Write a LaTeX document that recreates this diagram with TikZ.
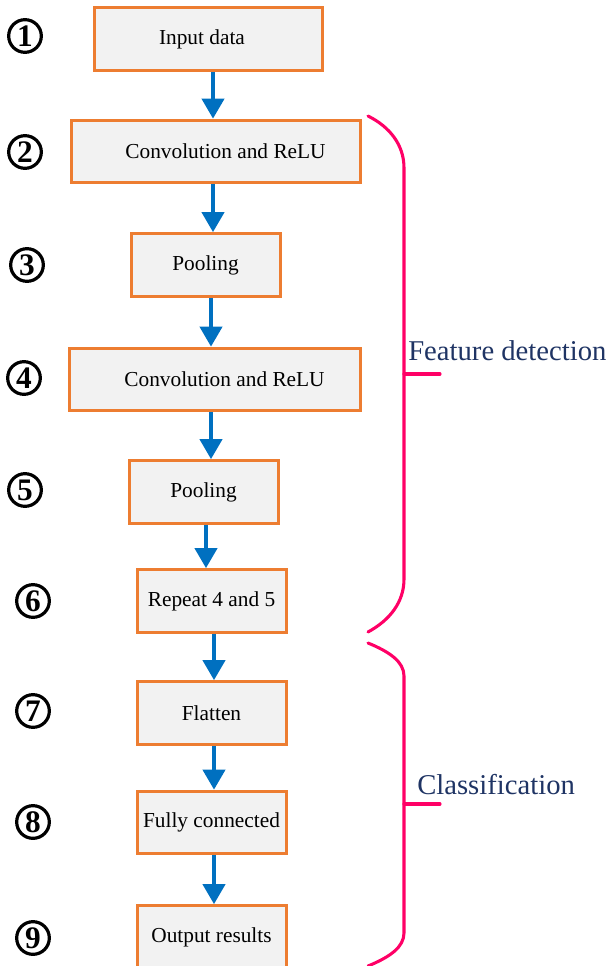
\documentclass[tikz,border=0pt]{standalone}
\usepackage{fontspec}
\setmainfont{Liberation Serif}
\usepackage{xcolor}
\definecolor{boxline}{RGB}{237,125,49}
\definecolor{boxfill}{RGB}{242,242,242}
\definecolor{flow}{RGB}{0,112,192}
\definecolor{brace}{RGB}{255,0,102}
\definecolor{navy}{RGB}{31,52,100}
\usetikzlibrary{arrows.meta}

\begin{document}
\begin{tikzpicture}[x=0.75pt, y=-0.75pt,
  stage/.style={draw=boxline, fill=boxfill, line width=2.25pt, minimum height=47pt, inner sep=0pt, font=\fontsize{16}{18}\selectfont},
  num/.style={circle, draw, line width=2.4pt, minimum size=24.5pt, inner sep=0pt, font=\fontsize{23.5}{23.5}\selectfont\bfseries},
  flowarrow/.style={draw=flow, line width=3pt, -{Triangle[width=16.5pt,length=15pt]}},
  bracket/.style={draw=brace, line width=2.3pt, line cap=round},
  part/.style={text=navy, anchor=base west, inner sep=0pt, font=\fontsize{21.5}{24}\selectfont}]
\useasboundingbox (0,0) rectangle (609,966);
\foreach \n/\x/\y/\w/\s/\t in {
input/208/39/171/-9/Input data, conv1/215.5/151.5/216.75/15/Convolution and ReLU,
pool1/205.5/265/111.75/0/Pooling, conv2/214.5/379.5/218.25/15/Convolution and ReLU,
pool2/203.5/492/111.75/0/Pooling, rep/211.5/601/111.75/0/Repeat 4 and 5,
flat/211.5/713/111.75/0/Flatten, fc/211.5/822.5/111.75/0/Fully connected,
out/211.5/937/111.75/0/Output results
}{
\node[stage, minimum width=\w pt] (\n) at (\x,\y) {\hspace*{\s pt}\t};
}
\foreach \a/\b/\x in {
input/conv1/213, conv1/pool1/213, pool1/conv2/211, conv2/pool2/211,
pool2/rep/206, rep/flat/214, flat/fc/214, fc/out/214
}{
\draw[flowarrow] (\a.south -| \x,0) -- (\b.north -| \x,0);
}
\foreach \x/\y/\k in {
25/36/1, 25/152/2, 27/265/3, 24/378/4, 25/490/5,
33/601/6, 33/711/7, 33/822/8, 33/938/9
}{
\node[num] (n\k) at (\x,\y) {\k};
}
% feature detection
\draw[bracket] (368,116) .. controls (390,127) and (404,145) .. (404,168) -- (404,579)
  .. controls (404,602) and (390,620) .. (368,632);
\draw[bracket] (404,374) -- (440,374);
\node[part] (feat) at (408,360) {Feature detection};
% classification
\draw[bracket] (368,643) .. controls (390,652) and (404,662) .. (404,676) -- (404,933)
  .. controls (404,947) and (390,957) .. (368,966);
\draw[bracket] (404,804) -- (440,804);
\node[part] (cls) at (417,794) {Classification};
\end{tikzpicture}
\end{document}
